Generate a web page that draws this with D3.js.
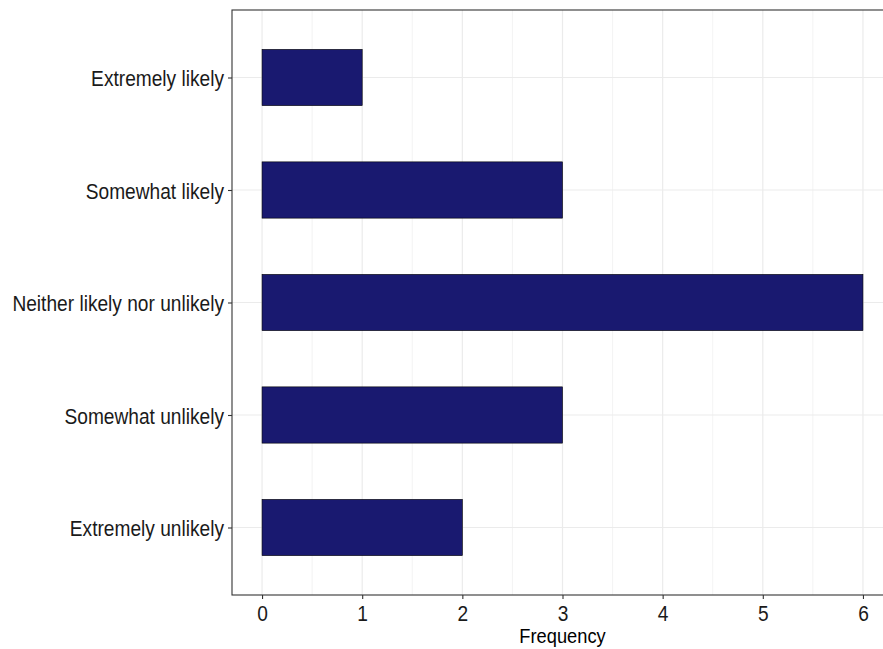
<!DOCTYPE html>
<html>
<head>
<meta charset="utf-8">
<script src="https://cdn.jsdelivr.net/npm/d3@7"></script>
<style>
  body { margin: 0; background: #fff; }
  text { font-family: "Liberation Sans", Arial, sans-serif; }
</style>
</head>
<body>
<div id="chart"></div>
<script>
// data
var categories = ["Extremely likely", "Somewhat likely", "Neither likely nor unlikely", "Somewhat unlikely", "Extremely unlikely"];
var frequency = [1, 3, 6, 3, 2];
var xTicks = [0, 1, 2, 3, 4, 5, 6];
var xMinor = [0.5, 1.5, 2.5, 3.5, 4.5, 5.5];

var width = 883,
    height = 649,
    panel = {left: 232, right: 893, top: 10, bottom: 595},
    squeeze = 0.87;   // text in the picture is a bit narrow

var x = d3.scaleLinear()
    .domain([-0.3, 6.3])
    .range([panel.left, panel.right]);

var y = d3.scalePoint()
    .domain(categories)
    .range([panel.top, panel.bottom])
    .padding(0.6);

var barH = y.step() * 0.5;

var svg = d3.select("#chart").append("svg")
    .attr("width", width)
    .attr("height", height);

var defs = svg.append("defs");
defs.append("clipPath").attr("id", "clip")
  .append("rect")
    .attr("x", panel.left)
    .attr("y", panel.top)
    .attr("width", panel.right - panel.left)
    .attr("height", panel.bottom - panel.top);

var plot = svg.append("g").attr("clip-path", "url(#clip)");

// grid
plot.selectAll(".minor")
    .data(xMinor)
  .enter().append("line")
    .attr("x1", function(d) { return x(d); })
    .attr("x2", function(d) { return x(d); })
    .attr("y1", panel.top)
    .attr("y2", panel.bottom)
    .style("stroke", "#ebebeb")
    .style("stroke-width", 0.6);

plot.selectAll(".vmajor")
    .data(xTicks)
  .enter().append("line")
    .attr("x1", function(d) { return x(d); })
    .attr("x2", function(d) { return x(d); })
    .attr("y1", panel.top)
    .attr("y2", panel.bottom)
    .style("stroke", "#ebebeb")
    .style("stroke-width", 1.2);

plot.selectAll(".hmajor")
    .data(categories)
  .enter().append("line")
    .attr("x1", panel.left)
    .attr("x2", panel.right)
    .attr("y1", function(d) { return y(d); })
    .attr("y2", function(d) { return y(d); })
    .style("stroke", "#ebebeb")
    .style("stroke-width", 1.2);

// bars
plot.selectAll(".bar")
    .data(categories)
  .enter().append("rect")
    .attr("class", "bar")
    .attr("x", x(0))
    .attr("y", function(d) { return y(d) - barH / 2; })
    .attr("width", function(d, i) { return x(frequency[i]) - x(0); })
    .attr("height", barH)
    .style("fill", "#191970")
    .style("stroke", "#000")
    .style("stroke-width", 0.6);

// panel border
svg.append("rect")
    .attr("x", panel.left)
    .attr("y", panel.top)
    .attr("width", panel.right - panel.left)
    .attr("height", panel.bottom - panel.top)
    .style("fill", "none")
    .style("stroke", "#333")
    .style("stroke-width", 1.1);

// x axis
var xAxis = svg.append("g")
    .attr("transform", "translate(0," + panel.bottom + ")")
    .call(d3.axisBottom(x).tickValues(xTicks).tickSize(4).tickPadding(3).tickFormat(d3.format("d")));
xAxis.select(".domain").remove();
xAxis.selectAll(".tick line").style("stroke", "#333").style("stroke-width", 1.1);
xAxis.selectAll(".tick text")
    .attr("y", 0)
    .attr("dy", 0)
    .attr("transform", "translate(0,26) scale(" + squeeze + ",1)")
    .style("font-size", "22px")
    .style("fill", "#1a1a1a");

// y axis
var yAxis = svg.append("g")
    .attr("transform", "translate(" + panel.left + ",0)")
    .call(d3.axisLeft(y).tickSize(4).tickPadding(4));
yAxis.select(".domain").remove();
yAxis.selectAll(".tick line").style("stroke", "#333").style("stroke-width", 1.1);
yAxis.selectAll(".tick text")
    .attr("x", 0)
    .attr("dy", 0)
    .attr("transform", "translate(-8,8) scale(" + squeeze + ",1)")
    .style("font-size", "22px")
    .style("fill", "#1a1a1a");

// axis title
svg.append("text")
    .attr("transform", "translate(" + x(3) + ",643) scale(" + squeeze + ",1)")
    .attr("text-anchor", "middle")
    .style("font-size", "21px")
    .style("fill", "#000")
    .text("Frequency");
</script>
</body>
</html>
